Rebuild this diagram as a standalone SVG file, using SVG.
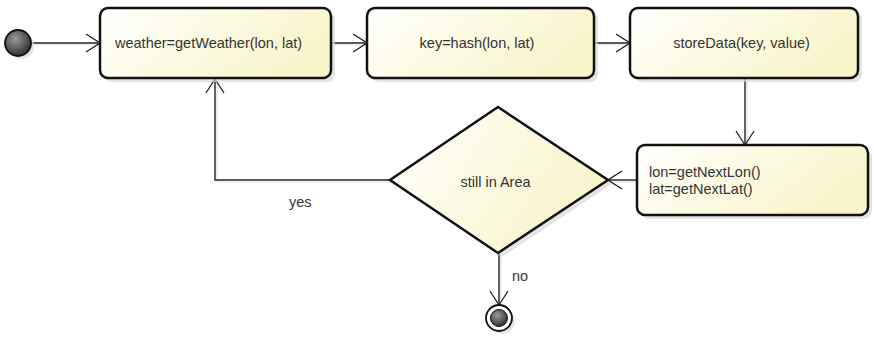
<svg xmlns="http://www.w3.org/2000/svg" width="874" height="339" viewBox="0 0 874 339">
<defs>
<linearGradient id="boxfill" x1="0" y1="0" x2="1" y2="0.4">
<stop offset="0" stop-color="#ffffff"/>
<stop offset="0.45" stop-color="#fdfbe6"/>
<stop offset="1" stop-color="#f8f4cc"/>
</linearGradient>
<radialGradient id="ball" cx="0.4" cy="0.35" r="0.7">
<stop offset="0" stop-color="#9a9a9a"/>
<stop offset="1" stop-color="#2a2a2a"/>
</radialGradient>
<marker id="arr" viewBox="0 0 16 20" refX="15" refY="10" markerWidth="16" markerHeight="20" markerUnits="userSpaceOnUse" orient="auto">
<path d="M1,1 L15,10 L1,19" fill="none" stroke="#222" stroke-width="1.3"/>
</marker>
</defs>
<style>
.box{fill:url(#boxfill);stroke:#111;stroke-width:2.5}
.shadow{fill:#d8d8d8;opacity:0.7}
.lbl{font-family:"Liberation Sans",Arial,sans-serif;font-size:14.5px;fill:#333}
.con{fill:none;stroke:#222;stroke-width:1.4}
.cshadow{fill:none;stroke:#e2e2e2;stroke-width:1.2}
</style>
<rect width="874" height="339" fill="#ffffff"/>
<g id="connectors">
<path class="cshadow" d="M34,45 L102,45"/>
<path class="cshadow" d="M333,45 L369,45"/>
<path class="cshadow" d="M596,45 L632,45"/>
<path class="cshadow" d="M747,81 L747,147"/>
<path class="cshadow" d="M639,182 L610,182"/>
<path class="cshadow" d="M392,182 L217,182 L217,81"/>
<path class="cshadow" d="M501,255 L501,305"/>
<path class="con" d="M31,43 L100,43" marker-end="url(#arr)"/>
<path class="con" d="M331,43 L367,43" marker-end="url(#arr)"/>
<path class="con" d="M594,43 L630,43" marker-end="url(#arr)"/>
<path class="con" d="M745,79 L745,145" marker-end="url(#arr)"/>
<path class="con" d="M637,180 L608,180" marker-end="url(#arr)"/>
<path class="con" d="M390,180 L215,180 L215,79" marker-end="url(#arr)"/>
<path class="con" d="M499,253 L499,305" marker-end="url(#arr)"/>
<text class="lbl" x="289" y="207">yes</text>
<text class="lbl" x="512" y="281">no</text>
</g>
<g id="start">
<circle cx="21" cy="46" r="13" class="shadow"/>
<circle cx="18" cy="43" r="13" fill="url(#ball)" stroke="#111" stroke-width="1.8"/>
</g>
<g id="getWeather">
<rect x="104" y="12" width="231" height="70" rx="8" class="shadow"/>
<rect x="100" y="8" width="231" height="70" rx="8" class="box"/>
<text class="lbl" x="115" y="48">weather=getWeather(lon, lat)</text>
</g>
<g id="hash">
<rect x="371" y="12" width="227" height="70" rx="8" class="shadow"/>
<rect x="367" y="8" width="227" height="70" rx="8" class="box"/>
<text class="lbl" x="477" y="48" text-anchor="middle">key=hash(lon, lat)</text>
</g>
<g id="storeData">
<rect x="634" y="12" width="228" height="70" rx="8" class="shadow"/>
<rect x="630" y="8" width="228" height="70" rx="8" class="box"/>
<text class="lbl" x="741.5" y="48" text-anchor="middle">storeData(key, value)</text>
</g>
<g id="next">
<rect x="641" y="149" width="231" height="70" rx="8" class="shadow"/>
<rect x="637" y="145" width="231" height="70" rx="8" class="box"/>
<text class="lbl" x="649" y="177">lon=getNextLon()</text>
<text class="lbl" x="649" y="194">lat=getNextLat()</text>
</g>
<g id="decision">
<polygon points="502,111 612,184 502,257 394,184" class="shadow"/>
<polygon points="498,107 608,180 498,253 390,180" fill="url(#boxfill)" stroke="#111" stroke-width="2.5"/>
<text class="lbl" x="495.5" y="187" text-anchor="middle">still in Area</text>
</g>
<g id="end">
<circle cx="502" cy="321" r="13" class="shadow"/>
<circle cx="499" cy="318" r="13" fill="#fff" stroke="#111" stroke-width="1.8"/>
<circle cx="499" cy="318" r="8.5" fill="url(#ball)" stroke="#111" stroke-width="1"/>
</g>
</svg>
